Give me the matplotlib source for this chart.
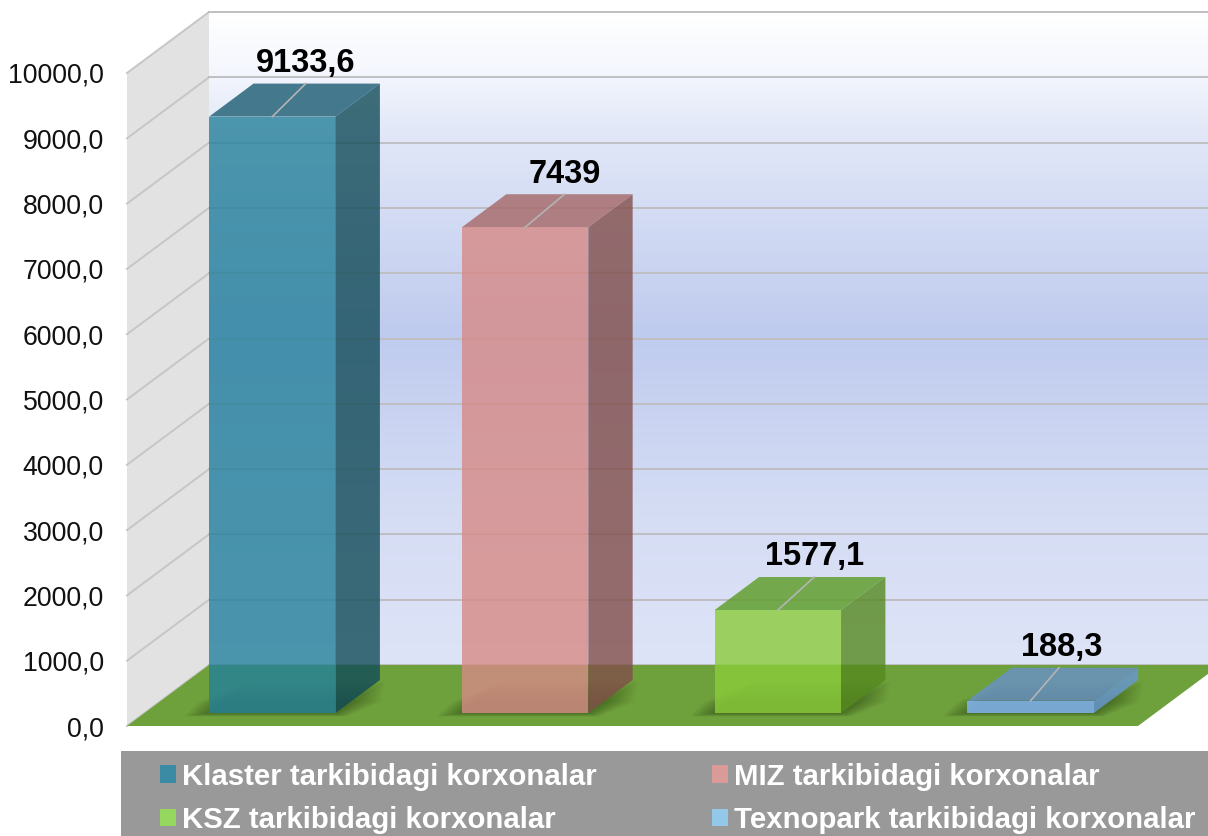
import matplotlib
matplotlib.use("Agg")
import matplotlib.pyplot as plt
import numpy as np
from matplotlib.colors import LinearSegmentedColormap
from matplotlib.patches import Patch, Polygon, Rectangle
from matplotlib.transforms import Affine2D

plt.rcParams['font.family'] = ['Liberation Sans', 'DejaVu Sans']

categories = ["Klaster tarkibidagi korxonalar", "MIZ tarkibidagi korxonalar",
              "KSZ tarkibidagi korxonalar", "Texnopark tarkibidagi korxonalar"]
values = [9133.6, 7439, 1577.1, 188.3]
value_labels = ["9133,6", "7439", "1577,1", "188,3"]
y_ticks = [0, 1000, 2000, 3000, 4000, 5000, 6000, 7000, 8000, 9000, 10000]
y_tick_labels = ["0,0", "1000,0", "2000,0", "3000,0", "4000,0", "5000,0",
                 "6000,0", "7000,0", "8000,0", "9000,0", "10000,0"]

front_colors = ["#25809a", "#d78a86", "#8bcc3b", "#84b6ff"]
top_colors = ["#1a5b72", "#a56766", "#5a9b23", "#6991ca"]
side_colors = ["#114b58", "#824e4a", "#55891f", "#6998d7"]
legend_colors = ["#3a8ba3", "#d99a98", "#96d75f", "#93c8ea"]

# leader line end and label, pixels sideways from the back edge of each bar top
leader_shift = [-11, -5, -8, -16]
label_shift = [0, 0, 0, 3]

W, H = 1208, 836
DEPTH_X, DEPTH_Y = 82, 61  # pixels the floor runs back
BAR_WIDTH = 0.5
BAR_NEAR, BAR_FAR = 0.213, 0.754
ALPHA = 0.8

fig = plt.figure(figsize=(W / 100, H / 100), dpi=100)
ax = fig.add_axes([127 / W, (H - 726) / H, 1011 / W, 653 / H])
X0, X1 = -0.506, 3.494
ax.set_xlim(X0, X1)
ax.set_ylim(0, 10000)
tr = ax.transData
inv = tr.inverted()


def depth(d):
    # shift into the picture, d=0 front edge of floor, d=1 back wall
    return ax.transData + Affine2D().translate(DEPTH_X * d, DEPTH_Y * d)


def at(x, v, d=0, px=0, py=0):
    # data position of a point moved back by d, plus a pixel nudge
    return inv.transform(tr.transform((x, v)) + (DEPTH_X * d + px, DEPTH_Y * d + py))


def poly(points, color, z=1, alpha=None):
    p = Polygon(points, closed=True, facecolor=color, edgecolor="none", lw=0, alpha=alpha,
                zorder=z, clip_on=False)
    ax.add_patch(p)
    return p


# back wall gradient
stops = [(0.0, "#ffffff"), (0.08, "#f6f8fe"), (0.18, "#e2e8f8"), (0.49, "#bfcbee"),
         (0.75, "#d4dcf4"), (1.0, "#dee4f7")]
cmap = LinearSegmentedColormap.from_list("wall", stops)
grad = np.linspace(0, 1, 256).reshape(-1, 1)
ax.imshow(grad, cmap=cmap, aspect="auto", extent=(X0, X1 + 0.5, 0, 10000), origin="upper",
          transform=depth(1), zorder=0, clip_on=False)
ax.set_xlim(X0, X1)
ax.set_ylim(0, 10000)

# left wall
poly([at(X0, 0), at(X0, 10000), at(X0, 10000, 1), at(X0, 0, 1)], "#e2e2e2", z=0.5)

# gridlines, wall and back
for v in y_ticks:
    a = at(X0, v, 1)
    ax.plot([X0, a[0]], [v, a[1]], color="#c6c6c6", lw=1.4, zorder=0.8, clip_on=False)
    ax.plot([X0, X1 + 0.5], [v, v], color="#bfbfc2", lw=1.4, zorder=0.8, clip_on=False,
            transform=depth(1))

# floor
poly([at(X0, 0), at(X1, 0), at(X1, 0, 1), at(X0, 0, 1)], "#6ea03c", z=1)

xs = np.arange(len(values))

# soft shadows on the floor, each layer wider but with a lower back edge
for i in xs:
    x0, x1 = i - BAR_WIDTH / 2, i + BAR_WIDTH / 2
    for k in range(1, 11):
        g = k * 2.5
        far = BAR_FAR - 0.035 * k
        poly([at(x0, 0, BAR_NEAR, -g, -k * 0.35), at(x1, 0, BAR_NEAR, g * 0.4, -k * 0.35),
              at(x1, 0, far, g + 6, 0), at(x0, 0, far, -g, 0)],
             "#2a4412", z=1.1, alpha=0.06)

# bars
for i, (v, lab) in enumerate(zip(values, value_labels)):
    x0, x1 = i - BAR_WIDTH / 2, i + BAR_WIDTH / 2
    poly([at(x1, 0, BAR_NEAR), at(x1, v, BAR_NEAR), at(x1, v, BAR_FAR), at(x1, 0, BAR_FAR)],
         side_colors[i], z=2, alpha=ALPHA)
    poly([at(x0, v, BAR_NEAR), at(x1, v, BAR_NEAR), at(x1, v, BAR_FAR), at(x0, v, BAR_FAR)],
         top_colors[i], z=2, alpha=ALPHA)
    poly([at(x0, 0, BAR_NEAR), at(x1, 0, BAR_NEAR), at(x1, v, BAR_NEAR), at(x0, v, BAR_NEAR)],
         front_colors[i], z=2.1, alpha=ALPHA)

    # leader line and value label
    start = at(i, v, BAR_NEAR)
    end = at(i, v, BAR_FAR, leader_shift[i])
    ax.plot([start[0], end[0]], [start[1], end[1]], color="#b4b4b4", lw=1.2, zorder=3, clip_on=False)
    ax.annotate(lab, xy=end, xytext=(label_shift[i] * 0.72, 14.5), textcoords="offset points",
                ha="center", va="center", fontsize=23.5, fontweight="bold", color="black",
                zorder=4, annotation_clip=False)

ax.set_xticks([])
ax.set_yticks(y_ticks)
ax.set_yticklabels(y_tick_labels, fontsize=19.2, color="#111111")
ax.tick_params(axis="y", length=0, pad=16.6)
for s in ax.spines.values():
    s.set_visible(False)
ax.patch.set_visible(False)

# legend band
fig.add_artist(Rectangle((121 / W, 0), 1 - 121 / W, 85 / H, transform=fig.transFigure,
                         facecolor="#999999", edgecolor="none", zorder=-1))
order = [0, 2, 1, 3]
handles = [Patch(facecolor=legend_colors[j], edgecolor="none") for j in order]
labels = [categories[j] for j in order]
leg = fig.legend(handles, labels, ncols=2, loc="lower left", bbox_to_anchor=(160 / W, 2 / H),
                 frameon=False, fontsize=21.2, handlelength=0.546, handleheight=0.546,
                 handletextpad=0.2, columnspacing=3.9, labelspacing=0.52, borderpad=0, borderaxespad=0)
for t in leg.get_texts():
    t.set_color("white")
    t.set_fontweight("bold")

fig.savefig("out.png", dpi=100)
